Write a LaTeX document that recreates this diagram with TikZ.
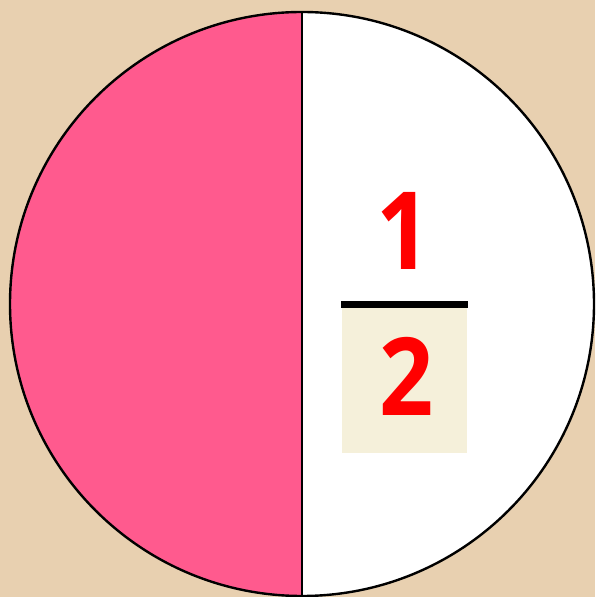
\documentclass[tikz,border=0pt]{standalone}
\usepackage{fontspec}
\setsansfont{Open Sans}
\usetikzlibrary{positioning}
\definecolor{fracBack}{HTML}{E8D0B0}
\definecolor{fracPink}{HTML}{FF5A8E}
\definecolor{fracBox}{HTML}{F5F0DA}
\definecolor{fracRed}{HTML}{FF0000}
\tikzset{
  fracfig/.style={x=1pt, y=1pt},
  halfleft/.style={fill=fracPink},
  halfright/.style={fill=white},
  rim/.style={draw=black, line width=2.4pt},
  digit/.style={font=\sffamily\bfseries\fontsize{108}{108}\selectfont, text=fracRed, inner sep=0pt, xscale=0.88},
  fracbar/.style={fill=black},
  denombox/.style={fill=fracBox},
}
\begin{document}
\begin{tikzpicture}[fracfig]
  \fill[fracBack] (0,0) rectangle (595,597);
  \useasboundingbox (0,0) rectangle (595,597);
  \coordinate (Center) at (302,293);
  \coordinate (Top) at (302,585);
  \coordinate (Bottom) at (302,1);
  % linke Haelfte rosa, rechte weiss
  \fill[halfleft] (Top) arc[start angle=90, end angle=270, radius=292] -- cycle;
  \fill[halfright] (Top) arc[start angle=90, end angle=-90, radius=292] -- cycle;
  \fill[denombox] (342,144) rectangle (467,289);
  \fill[fracbar] (341,289) rectangle (468,296);
  \node[digit] (Numerator) at (404,366) {1};
  \node[digit] (Denominator) at (407,221) {2};
  \draw[rim] (Top) -- (Bottom);
  \draw[rim] (Center) circle[radius=292];
\end{tikzpicture}
\end{document}
